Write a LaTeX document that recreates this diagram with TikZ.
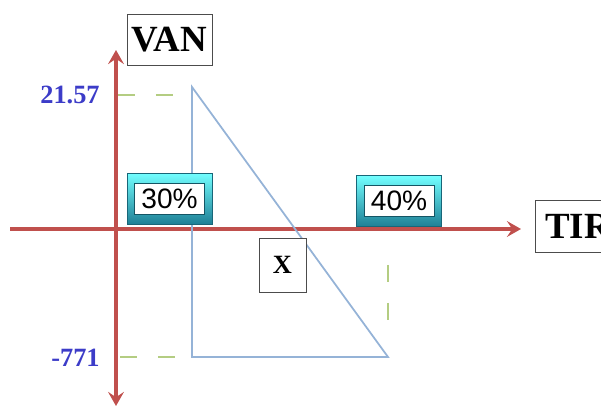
\documentclass[tikz,border=0pt]{standalone}
\usepackage{fontspec}
\setmainfont{Liberation Serif}
\setsansfont{Liberation Sans}
\usepackage{tikz}
\usetikzlibrary{positioning,arrows.meta,calc}
\definecolor{axisred}{RGB}{192,80,77}
\definecolor{lineblue}{RGB}{149,179,215}
\definecolor{dashgreen}{RGB}{180,205,130}
\definecolor{numblue}{RGB}{60,60,200}
\definecolor{bevelcyan}{RGB}{40,170,200}

\begin{document}
\begin{tikzpicture}[x=0.02cm, y=-0.02cm]
\tikzstyle{axis}=[draw=axisred, line width=2.2pt, -{Stealth[length=8pt,width=9pt,inset=3pt]}]
\tikzstyle{tri}=[draw=lineblue, line width=1pt]
\tikzstyle{guide}=[draw=dashgreen, line width=1.2pt, dash pattern=on 0.34cm off 0.42cm]
\tikzstyle{labelbox}=[draw=black!70, fill=white, font=\bfseries, inner sep=0pt]
\tikzstyle{pctbox}=[draw=bevelcyan!60!black, top color=cyan!55!white, bottom color=bevelcyan!75!black, minimum width=1.7cm, minimum height=1.02cm, inner sep=0pt]
\tikzstyle{pcttext}=[fill=white, draw=bevelcyan!50!black, font=\sffamily\fontsize{16}{16}\selectfont, minimum width=1.4cm, minimum height=0.62cm, inner sep=0pt]
\tikzstyle{value}=[text=numblue, font=\bfseries\fontsize{15}{15}\selectfont, anchor=east, inner sep=0pt]

\useasboundingbox (0,0) rectangle (601,408);

% axes
\coordinate (o)   at (116,229);
\coordinate (top) at (116,50);
\coordinate (bot) at (116,406);
\coordinate (lft) at (10,229);
\coordinate (rgt) at (521,229);
\path[axis] (o) -- (top);
\path[axis] (o) -- (bot);
\path[axis] (lft) -- (rgt);

% axis labels
\node[labelbox, minimum width=1.7cm, minimum height=1.02cm, font=\bfseries\fontsize{21}{21}\selectfont] (van) at (169.5,39.5) {VAN};
\node[labelbox, minimum width=1.7cm, minimum height=1.04cm, font=\bfseries\fontsize{21}{21}\selectfont, anchor=west] (tir) at (535,226) {TIR};

% triangle
\coordinate (a) at (192,87);
\coordinate (b) at (192,357);
\coordinate (c) at (388,357);
\path[tri] (a) -- (b) -- (c) -- cycle;

% guide lines
\coordinate (g1) at (118,95);
\coordinate (g2) at (120,357);
\coordinate (g3) at (388,265);
\path[guide] (g1) -- (180,95);
\path[guide] (g2) -- (184,357);
\path[guide] (g3) -- (388,340);

% values
\node[value] (v1) at (100,95) {21.57};
\node[value] (v2) at (100,358) {-771};

% rates
\node[pctbox] (r30) at (169.5,198.5) {};
\node[pcttext] at (r30) {30\%};
\node[pctbox] (r40) at (399,201) {};
\node[pcttext] at (r40) {40\%};

% unknown rate
\node[labelbox, minimum width=0.94cm, minimum height=1.08cm, font=\bfseries\fontsize{15}{15}\selectfont] (x) at (282.5,265) {X};
\end{tikzpicture}
\end{document}
